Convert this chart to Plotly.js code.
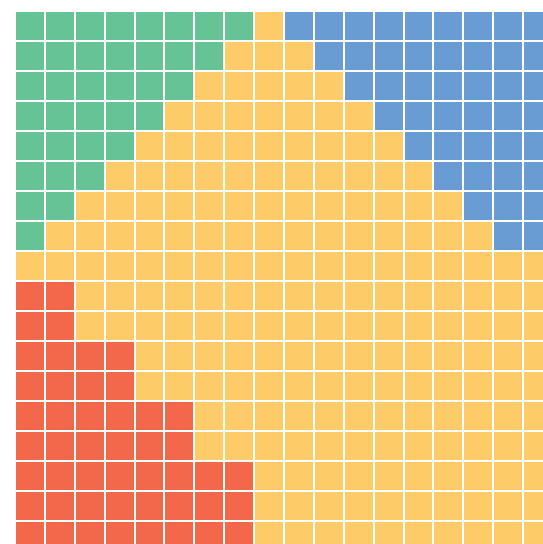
<!DOCTYPE html>
<html>
<head>
<meta charset="utf-8">
<script src="https://cdn.plot.ly/plotly-3.0.1.min.js"></script>
<style>
html, body { margin: 0; padding: 0; overflow: hidden; background: #fff; }
#chart { width: 560px; height: 560px; }
</style>
</head>
<body>
<div id="chart"></div>
<script>
// Waffle grid: 18 columns x 18 rows (top row first)
var nCols = 18;
var nRows = 18;
// Category codes: 0 = green, 1 = yellow, 2 = blue, 3 = red
var categories = ["green", "yellow", "blue", "red"];
var categoryColors = ["#66c396", "#fdcb68", "#689cd3", "#f3684b"];
// Cells per row from the left for green (top rows)
var greenPerRow = [8, 7, 6, 5, 4, 3, 2, 1, 0, 0, 0, 0, 0, 0, 0, 0, 0, 0];
// Cells per row from the right for blue (top rows)
var bluePerRow  = [9, 8, 7, 6, 5, 4, 3, 2, 0, 0, 0, 0, 0, 0, 0, 0, 0, 0];
// Cells per row from the left for red (bottom rows)
var redPerRow   = [0, 0, 0, 0, 0, 0, 0, 0, 0, 2, 2, 4, 4, 6, 6, 8, 8, 8];

var z = [];
for (var r = 0; r < nRows; r++) {
  var row = [];
  for (var c = 0; c < nCols; c++) {
    var v = 1;
    if (c < greenPerRow[r]) v = 0;
    else if (c < redPerRow[r]) v = 3;
    else if (c >= nCols - bluePerRow[r]) v = 2;
    row.push(v);
  }
  z.push(row);
}

var n = categories.length;
var colorscale = [];
for (var i = 0; i < n; i++) {
  colorscale.push([i / n, categoryColors[i]]);
  colorscale.push([(i + 1) / n, categoryColors[i]]);
}

var trace = {
  type: "heatmap",
  z: z,
  zmin: -0.5,
  zmax: n - 0.5,
  colorscale: colorscale,
  showscale: false,
  xgap: 2,
  ygap: 2,
  hoverinfo: "skip"
};

var layout = {
  width: 560,
  height: 560,
  margin: { l: 15, r: 7, t: 11, b: 9, pad: 0 },
  paper_bgcolor: "#ffffff",
  plot_bgcolor: "#ffffff",
  showlegend: false,
  xaxis: { range: [-0.5, nCols - 0.5], showgrid: false, zeroline: false, showticklabels: false, ticks: "", showline: false, fixedrange: true },
  yaxis: { range: [nRows - 0.5, -0.5], showgrid: false, zeroline: false, showticklabels: false, ticks: "", showline: false, fixedrange: true }
};

Plotly.newPlot("chart", [trace], layout, { staticPlot: true, displayModeBar: false });
</script>
</body>
</html>
